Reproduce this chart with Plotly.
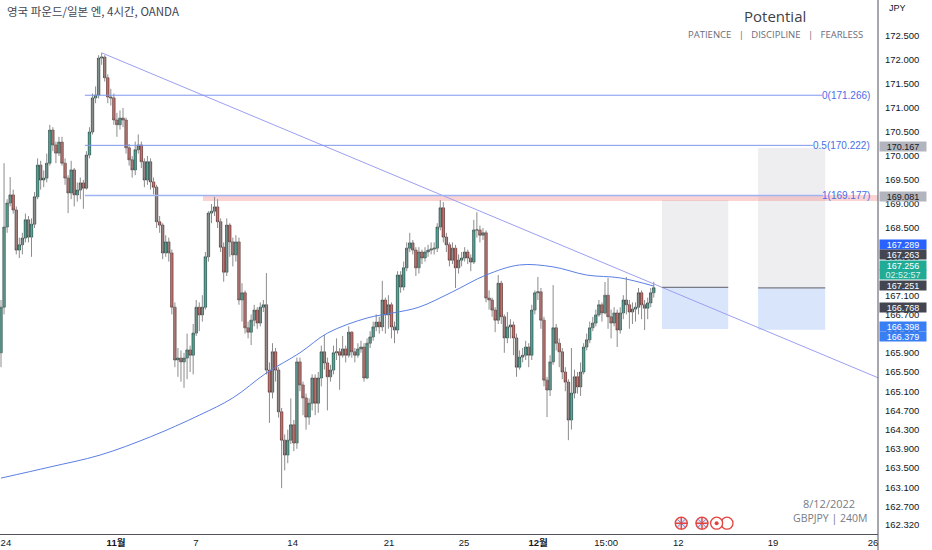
import plotly.graph_objects as go

# GBPJPY 4h candles (one bar per index)
first_open = 165.90
close = [
    166.85, 168.52, 169.02, 169.19, 168.875, 168.04, 168.15, 168.29, 168.67, 168.31,
    168.58, 169.15, 169.81, 169.50, 169.54, 169.85, 170.54, 170.23, 170.06, 170.29,
    169.85, 169.54, 169.23, 169.71, 169.19, 169.29, 169.44, 169.33, 170.02, 170.50,
    171.21, 171.27, 172.04, 172.06, 171.63, 171.23, 171.21, 170.75, 170.65, 170.79,
    170.75, 170.17, 169.92, 169.71, 170.13, 170.23, 169.88, 169.50, 169.88, 169.46,
    169.35, 168.63, 168.56, 167.98, 168.21, 167.98, 166.85, 165.75, 165.79, 165.71,
    165.79, 165.96, 165.85, 166.31, 166.85, 166.69, 166.85,
    167.90, 168.81, 168.85, 168.94, 168.63, 168.10, 167.58, 168.56, 168.21, 167.94,
    168.21, 167.00, 167.15, 166.42, 166.33, 166.58, 166.79, 166.52, 166.85, 166.90,
    165.54, 165.08, 165.92, 165.54, 164.67, 164.08, 163.77, 164.08, 164.40, 164.02,
    165.71, 165.23, 164.96, 164.56, 164.85, 165.375, 164.85, 165.375, 165.92, 165.69,
    165.40, 165.54, 165.90, 165.92, 165.85, 165.98, 165.85, 166.33, 165.92, 165.85,
    165.98, 166.02, 165.375, 166.10, 166.23, 166.44, 166.54, 166.44, 167.00, 166.69,
    166.90, 166.44, 166.375, 167.52, 167.27, 167.67, 168.08, 168.19, 168.04, 167.67,
    168.00, 167.875,
    168.00, 168.04, 168.06, 168.08, 168.52, 168.92, 168.31, 168.15, 167.83, 168.08,
    167.67, 167.83, 167.875, 168.00, 167.875, 167.79, 168.46, 168.46, 168.35, 168.40,
    167.04, 167.00, 166.79, 166.58, 167.35, 166.65, 166.21, 166.44, 166.48, 166.21,
    165.60, 165.81, 165.85, 166.02, 165.85, 166.79, 167.15, 167.17, 166.58, 165.33,
    165.125, 165.71, 166.42, 166.10, 165.92, 165.50, 165.29, 164.50, 165.06, 165.40,
    165.19, 165.50, 166.02, 166.17, 166.42, 166.52, 166.69, 166.90, 166.73, 167.10,
    166.65, 166.52, 166.73, 166.375, 166.73, 167.00, 166.90, 166.75, 166.81, 166.85,
    167.15, 166.90, 166.83, 166.94, 167.15, 167.256,
]
high = [
    167.00, 169.85, 169.10, 169.56, 169.30, 168.95, 168.30, 168.40, 168.80, 168.75,
    168.70, 169.25, 169.95, 169.90, 169.70, 170.05, 170.65, 170.60, 170.30, 170.40,
    170.40, 169.95, 169.60, 169.90, 169.75, 169.45, 169.55, 169.50, 170.10, 170.60,
    171.30, 171.45, 172.10, 172.15, 172.10, 171.70, 171.40, 171.30, 170.90, 170.95,
    171.00, 170.80, 170.25, 170.00, 170.30, 170.45, 170.30, 169.95, 170.00, 169.95,
    169.55, 169.40, 168.75, 168.60, 168.35, 168.30, 168.05, 166.95, 166.00, 165.95,
    165.90, 166.30, 166.05, 166.50, 167.00, 166.95, 167.10,
    168.00, 168.85, 169.00, 169.15, 169.10, 168.70, 168.20, 168.70, 168.60, 168.30,
    168.35, 168.30, 167.35, 167.20, 166.55, 166.70, 166.90, 166.85, 166.95, 167.00,
    167.56, 165.70, 166.10, 166.00, 165.60, 164.75, 164.20, 164.30, 164.95, 164.50,
    165.80, 165.80, 165.30, 165.05, 164.95, 165.45, 165.45, 165.50, 166.05, 166.27,
    165.80, 165.65, 166.05, 166.20, 166.00, 166.25, 166.05, 166.45, 166.35, 166.00,
    166.10, 166.15, 166.10, 166.20, 166.35, 166.55, 166.70, 166.65, 167.40, 167.05,
    167.10, 166.95, 166.55, 167.60, 167.60, 167.80, 168.20, 168.40, 168.25, 168.10,
    168.10, 168.05,
    168.10, 168.15, 168.20, 168.20, 168.60, 169.08, 169.04, 168.40, 168.20, 168.20,
    168.15, 167.95, 168.00, 168.10, 168.05, 167.95, 168.67, 168.83, 168.55, 168.50,
    168.45, 167.20, 167.05, 166.85, 167.52, 167.40, 166.70, 166.75, 166.60, 166.55,
    166.30, 165.95, 166.00, 166.15, 166.10, 166.90, 167.20, 167.48, 167.25, 166.65,
    165.40, 165.85, 167.31, 166.50, 166.20, 166.00, 165.60, 165.35, 166.00, 165.55,
    165.50, 165.70, 166.10, 166.30, 166.55, 166.65, 166.80, 167.00, 166.95, 167.375,
    167.46, 166.80, 166.85, 166.80, 166.85, 167.10, 167.48, 167.00, 166.95, 166.95,
    167.25, 167.20, 167.00, 167.05, 167.25, 167.38,
]
low = [
    165.60, 166.70, 168.40, 168.95, 168.80, 167.95, 167.875, 167.95, 168.20, 168.20,
    167.90, 168.50, 169.10, 169.30, 169.35, 169.45, 169.80, 170.10, 169.85, 170.00,
    169.80, 169.40, 168.81, 169.10, 168.95, 169.05, 169.10, 168.90, 169.30, 169.95,
    170.45, 171.10, 171.20, 171.90, 171.55, 171.10, 171.05, 170.65, 170.40, 170.55,
    170.60, 170.05, 169.80, 169.55, 169.60, 170.05, 169.75, 169.35, 169.40, 169.30,
    169.20, 168.50, 168.40, 167.85, 167.90, 167.80, 166.70, 165.60, 165.40, 165.30,
    165.17, 165.35, 165.50, 165.45, 166.25, 166.35, 166.55,
    166.80, 167.80, 168.60, 168.75, 168.50, 168.00, 167.38, 167.50, 167.90, 167.70,
    167.80, 166.90, 166.55, 166.30, 166.20, 166.06, 166.45, 166.40, 166.45, 166.75,
    165.45, 164.44, 164.95, 165.30, 164.55, 163.08, 163.45, 163.60, 164.00, 163.85,
    163.90, 165.10, 164.60, 164.30, 164.40, 164.70, 164.60, 164.65, 165.20, 165.55,
    164.70, 165.30, 165.45, 165.75, 165.13, 165.80, 165.70, 165.80, 165.80, 165.70,
    165.80, 165.90, 165.30, 165.35, 166.00, 166.15, 166.35, 166.30, 166.35, 166.30,
    166.40, 166.20, 166.10, 166.30, 167.15, 167.20, 167.60, 168.00, 167.95, 167.50,
    167.55, 167.75,
    167.80, 167.90, 167.95, 167.95, 168.00, 168.45, 168.20, 168.00, 167.70, 167.75,
    167.25, 167.55, 167.70, 167.80, 167.75, 167.60, 167.75, 168.30, 168.20, 168.25,
    166.95, 166.80, 166.65, 166.33, 166.50, 166.50, 165.90, 166.10, 166.20, 165.85,
    165.40, 165.55, 165.70, 165.75, 165.60, 165.75, 166.70, 167.00, 166.40, 165.20,
    164.56, 165.00, 165.65, 165.95, 165.60, 165.35, 165.10, 164.08, 164.30, 164.95,
    165.05, 165.00, 165.45, 165.95, 166.10, 166.35, 166.45, 166.65, 166.55, 166.70,
    166.40, 166.20, 166.45, 166.02, 166.30, 166.60, 166.70, 166.40, 166.50, 166.55,
    166.70, 166.60, 166.375, 166.60, 166.85, 167.05,
]

# moving average line (read at a few bars)
ma_x = [0, 16, 32.5, 49, 65, 76, 87, 98, 107, 120, 128.5, 137, 148, 159, 170, 181, 192, 203, 214]
ma_y = [163.29, 163.52, 163.77, 164.15, 164.60, 164.96, 165.48, 165.90, 166.31, 166.625,
        166.73, 166.85, 167.17, 167.52, 167.73, 167.69, 167.52, 167.46, 167.29]

# drawings
trend_x = [33, 287.5]
trend_y = [172.15, 165.38]

fib_labels = ["0", "0.5", "1"]
fib_prices = [171.266, 170.222, 169.177]
fib_colors = ["#7d96ea", "#7d96ea", "#9fb3f3"]
fib_widths = [1, 1, 1.6]
fib_start = 27.5
fib_end = [269.2, 266.2, 269.5]

zone_x = [66.2, 287.5]
zone_y = [169.06, 169.19]

pos_x0 = [216.7, 248.2]
pos_x1 = [238.4, 270.2]
pos_target = [169.081, 170.167]
pos_entry = [167.263, 167.251]
pos_stop = [166.398, 166.379]

# price tags on the right scale (stacked positions)
tag_text = ["170.167", "169.081", "167.289", "167.263", "167.256", "02:52:57",
            "167.251", "166.768", "166.398", "166.379"]
tag_y = [170.19, 169.15, 168.15, 167.94, 167.72, 167.53, 167.30, 166.84, 166.45, 166.23]
tag_bg = ["#b2b5be", "#b2b5be", "#2962ff", "#434651", "#22ab94", "#22ab94",
          "#434651", "#434651", "#3a7ef3", "#3a7ef3"]
tag_fg = ["#131722", "#131722", "white", "white", "white", "#d8f3ee",
          "white", "white", "white", "white"]

tick_pos = [1.6, 37.7, 63.9, 95.6, 127.2, 151.8, 176.1, 198.4, 222.0, 253.1, 285.9]
tick_text = ["24", "<b>11월</b>", "7", "14", "21", "25", "<b>12월</b>", "15:00", "12", "19", "26"]
y_ticks = [172.5, 172.0, 171.5, 171.0, 170.5, 170.0, 169.5, 169.0, 168.5, 167.9, 167.5,
           167.1, 166.7, 166.3, 165.9, 165.5, 165.1, 164.7, 164.3, 163.9, 163.5, 163.1,
           162.7, 162.32]

event_x = [238.0, 223.0, 229.8, 234.6]
event_kind = ["blank", "uk", "uk", "jp"]

idx = list(range(len(close)))
opens = [first_open] + close[:-1]
body_hi = [max(o, c) for o, c in zip(opens, close)]
body_lo = [min(o, c) for o, c in zip(opens, close)]

wick_x, wick_y = [], []
for i, (h, l) in enumerate(zip(high, low)):
    wick_x += [i, i, None]
    wick_y += [l, h, None]

fig = go.Figure()

# position boxes, zone, fib lines
shapes = []
for x0, x1, t, e, s in zip(pos_x0, pos_x1, pos_target, pos_entry, pos_stop):
    shapes.append(dict(type="rect", x0=x0, x1=x1, y0=e, y1=t, fillcolor="#eeeef0",
                       line=dict(width=0), layer="below"))
    shapes.append(dict(type="rect", x0=x0, x1=x1, y0=s, y1=e, fillcolor="#d8e5fb",
                       line=dict(width=0), layer="below"))
    shapes.append(dict(type="line", x0=x0, x1=x1, y0=e, y1=e,
                       line=dict(color="#787b86", width=1.3)))
shapes.append(dict(type="rect", x0=zone_x[0], x1=zone_x[1], y0=zone_y[0], y1=zone_y[1],
                   fillcolor="rgba(244,140,140,0.38)", line=dict(width=0), layer="below"))
for p, xe, col, w in zip(fib_prices, fib_end, fib_colors, fib_widths):
    shapes.append(dict(type="line", x0=fib_start, x1=xe, y0=p, y1=p,
                       line=dict(color=col, width=w)))
shapes.append(dict(type="line", xref="paper", yref="paper", x0=1, x1=1, y0=-0.035, y1=1,
                   line=dict(color="#50535e", width=1)))

fig.add_trace(go.Scatter(x=wick_x, y=wick_y, mode="lines",
                         line=dict(color="#8c8c8c", width=1), hoverinfo="skip"))
fig.add_trace(go.Candlestick(
    x=idx, open=opens, high=body_hi, low=body_lo, close=close,
    increasing=dict(fillcolor="#22a38d", line=dict(color="#263331", width=0.6)),
    decreasing=dict(fillcolor="#d9544d", line=dict(color="#3a2626", width=0.6)),
    whiskerwidth=0,
))
fig.add_trace(go.Scatter(x=ma_x, y=ma_y, mode="lines", line=dict(color="#5b7fe3", width=1, shape="spline")))
fig.add_trace(go.Scatter(x=trend_x, y=trend_y, mode="lines", line=dict(color="#9d9ff2", width=1)))

# event icons
for ex, kind in zip(event_x, event_kind):
    fill = "#e6eaf6" if kind == "uk" else "white"
    fig.add_trace(go.Scatter(x=[ex], y=[162.35], mode="markers",
                             marker=dict(size=12, color=fill, line=dict(color="#e4433e", width=1.3))))
    if kind == "uk":
        fig.add_trace(go.Scatter(x=[ex], y=[162.35], mode="markers",
                                 marker=dict(size=8, symbol="x-thin", line=dict(color="#7a86c4", width=1))))
        fig.add_trace(go.Scatter(x=[ex], y=[162.35], mode="markers",
                                 marker=dict(size=9, symbol="cross-thin", line=dict(color="#e4433e", width=1.4))))
    elif kind == "jp":
        fig.add_trace(go.Scatter(x=[ex], y=[162.35], mode="markers",
                                 marker=dict(size=4, color="#e4433e")))

ann = []
num_font = "Liberation Sans, Noto Sans CJK KR"
for lab, p in zip(fib_labels, fib_prices):
    ann.append(dict(x=285.6, y=p, xref="x", yref="y", text=f"{lab}({p:.3f})", showarrow=False,
                    xanchor="right", yanchor="middle", font=dict(family=num_font, size=10, color="#4a6ee6")))
for t, y, bg, fg in zip(tag_text, tag_y, tag_bg, tag_fg):
    ann.append(dict(x=1.0, y=y, xref="paper", yref="y", xanchor="left", yanchor="middle", xshift=1,
                    text=t, showarrow=False, bgcolor=bg, width=46, height=9, borderpad=0,
                    font=dict(family=num_font, size=9, color=fg)))
ann += [
    dict(x=0, y=0.979, xref="paper", yref="paper", xanchor="left", yanchor="middle", xshift=5,
         text="영국 파운드/일본 엔, 4시간, OANDA", showarrow=False,
         font=dict(family="Noto Sans CJK KR", size=11.5, color="#434651")),
    dict(x=0.8827, y=0.970, xref="paper", yref="paper", xanchor="center", yanchor="middle",
         text="Potential", showarrow=False, font=dict(family="Open Sans", size=15, color="#3f3f46")),
    dict(x=0.8827, y=0.9363, xref="paper", yref="paper", xanchor="center", yanchor="middle",
         text="PATIENCE   |   DISCIPLINE   |   FEARLESS", showarrow=False,
         font=dict(family="Open Sans", size=9.5, color="#6a6d78")),
    dict(x=1.0, y=0.985, xref="paper", yref="paper", xanchor="left", yanchor="middle", xshift=9,
         text="JPY", showarrow=False, font=dict(family=num_font, size=9, color="#131722")),
    dict(x=0.944, y=0.058, xref="paper", yref="paper", xanchor="center", yanchor="middle",
         text="8/12/2022", showarrow=False, font=dict(family="Open Sans", size=11, color="#787b86")),
    dict(x=0.945, y=0.030, xref="paper", yref="paper", xanchor="center", yanchor="middle",
         text="GBPJPY | 240M", showarrow=False, font=dict(family="Open Sans", size=10.5, color="#787b86")),
]

fig.update_layout(
    width=932, height=550,
    margin=dict(l=0, r=54, t=0, b=16),
    paper_bgcolor="white", plot_bgcolor="white",
    showlegend=False, boxgap=0.2, boxgroupgap=0,
    shapes=shapes, annotations=ann,
    xaxis=dict(range=[-0.33, 287.5], showgrid=False, zeroline=False, rangeslider=dict(visible=False),
               tickvals=tick_pos, ticktext=tick_text, ticks="", showline=True, linecolor="#50535e",
               tickfont=dict(family=num_font, size=9.5, color="#131722")),
    yaxis=dict(range=[162.125, 173.25], side="right", showgrid=False, zeroline=False,
               tickvals=y_ticks, tickformat=".3f", ticks="", ticklabelstandoff=6,
               tickfont=dict(family=num_font, size=9.5, color="#131722")),
)

# the page body has a default 8px margin; drop it so the chart sits at the window corner
fig.write_html("out.html", config={"displayModeBar": False},
               post_script="document.body.style.margin='0';document.body.style.overflow='hidden';")
